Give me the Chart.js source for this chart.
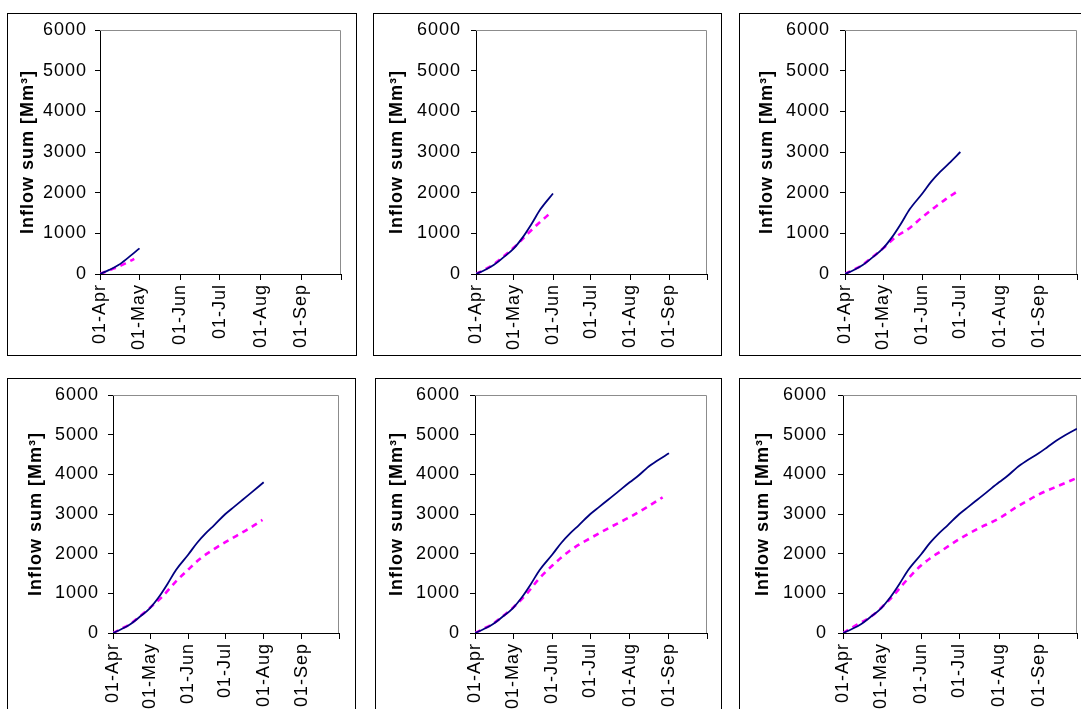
<!DOCTYPE html>
<html><head><meta charset="utf-8">
<script src="https://cdn.jsdelivr.net/npm/chart.js@4.4.1/dist/chart.umd.min.js"></script>
<style>
html,body{margin:0;padding:0;background:#fff;width:1081px;height:709px;overflow:hidden;position:relative;}
.panel{position:absolute;border:1px solid #000;box-sizing:border-box;background:#fff;}
.panel canvas{display:block;}
</style></head><body>
<script>
// ---- data ----
const monthTicks = [0, 30, 61, 91, 122, 153, 183];
const monthLabels = ['01-Apr', '01-May', '01-Jun', '01-Jul', '01-Aug', '01-Sep', ''];
const yTicks = [0, 1000, 2000, 3000, 4000, 5000, 6000];
const yTitle = 'Inflow sum [Mm³]';

const observedDays   = [0, 7, 14, 21, 30, 37, 44, 51, 61, 68, 75, 82, 91, 98, 105, 112, 122, 129, 136, 143, 153, 160, 167, 174, 183];
const observedValues = [0, 100, 220, 390, 630, 900, 1230, 1590, 1980, 2270, 2510, 2720, 3000, 3180, 3360, 3540, 3800, 3970, 4170, 4330, 4530, 4690, 4850, 4990, 5150];
const panelEndDays = [30, 61, 91, 122, 153, 183];

const forecastDays1   = [0, 7, 14, 21, 26];
const forecastValues1 = [0, 90, 180, 290, 370];
const forecastDays2   = [0, 7, 14, 21, 30, 40, 49, 59];
const forecastValues2 = [0, 110, 240, 410, 650, 960, 1230, 1500];
const forecastDays3   = [0, 7, 14, 21, 30, 40, 51, 61, 70, 79, 90];
const forecastValues3 = [0, 110, 230, 400, 630, 910, 1130, 1400, 1620, 1830, 2060];
const forecastDays4   = [0, 7, 14, 21, 30, 40, 51, 61, 70, 80, 91, 100, 110, 121];
const forecastValues4 = [0, 110, 230, 400, 640, 920, 1300, 1600, 1860, 2080, 2290, 2450, 2630, 2850];
const forecastDays5   = [0, 7, 14, 21, 30, 40, 50, 61, 75, 91, 104, 122, 135, 148];
const forecastValues5 = [0, 110, 230, 400, 640, 960, 1350, 1700, 2080, 2390, 2620, 2920, 3160, 3420];
const forecastDays6   = [0, 11, 23, 30, 40, 47, 54, 61, 68, 76, 91, 105, 122, 136, 153, 170, 183];
const forecastValues6 = [0, 210, 440, 640, 965, 1230, 1480, 1700, 1880, 2050, 2370, 2620, 2890, 3180, 3490, 3730, 3910];

const forecastDaysList = [forecastDays1, forecastDays2, forecastDays3, forecastDays4, forecastDays5, forecastDays6];
const forecastValuesList = [forecastValues1, forecastValues2, forecastValues3, forecastValues4, forecastValues5, forecastValues6];

// ---- layout (page pixels) ----
const layoutsCfg = [
  {box:[7, 13, 350, 343],   plot:[100, 30, 341, 274],  titleCx:28.5,  yPad:8},
  {box:[373, 13, 349, 343], plot:[476, 30, 707, 274],  titleCx:397.5, yPad:10},
  {box:[739, 13, 350, 343], plot:[845, 30, 1077, 274], titleCx:767.5, yPad:10},
  {box:[7, 378, 349, 343],  plot:[113, 395, 339, 633], titleCx:35.8,  yPad:9},
  {box:[375, 378, 347, 343],plot:[475, 395, 707, 633], titleCx:397.5, yPad:10},
  {box:[739, 378, 350, 343],plot:[843, 395, 1077, 633],titleCx:763.5, yPad:11}
];

const FONT = "'Liberation Sans', Arial, sans-serif";
const FSIZE = 18;
const SPACING = '1px';

const spacingPlugin = {
  id: 'spacing',
  beforeLayout(chart) { chart.ctx.letterSpacing = SPACING; },
  beforeDraw(chart) { chart.ctx.letterSpacing = SPACING; }
};
const framePlugin = {
  id: 'frame',
  beforeDatasetsDraw(chart) {
    const {ctx, chartArea: a} = chart;
    ctx.save();
    ctx.strokeStyle = '#8c8c8c';
    ctx.lineWidth = 1;
    ctx.beginPath();
    const t = Math.round(a.top) + 0.5, r = Math.round(a.right) - 0.5;
    ctx.moveTo(a.left, t);
    ctx.lineTo(r, t);
    ctx.lineTo(r, a.bottom);
    ctx.stroke();
    ctx.restore();
  }
};

layoutsCfg.forEach((L, i) => {
  const [bx, by, bw, bh] = L.box;
  const div = document.createElement('div');
  div.className = 'panel';
  div.style.left = bx + 'px'; div.style.top = by + 'px';
  div.style.width = bw + 'px'; div.style.height = bh + 'px';
  document.body.appendChild(div);
  const cw = bw - 2, ch = bh - 2, cx = bx + 1, cy = by + 1;
  const canvas = document.createElement('canvas');
  canvas.width = cw; canvas.height = ch;
  canvas.style.width = cw + 'px'; canvas.style.height = ch + 'px';
  div.appendChild(canvas);

  const [pl, pt, pr, pb] = L.plot;
  const yW = pl - cx;
  const xH = ch - (pb - cy);
  const topPad = pt - cy;
  const rightPad = cw - (pr - cx);
  const titlePad = L.titleCx - cx - FSIZE * 1.2 / 2;

  const end = panelEndDays[i];
  const obs = [];
  observedDays.forEach((d, k) => { if (d <= end) obs.push({x: d, y: observedValues[k]}); });
  const fc = forecastDaysList[i].map((d, k) => ({x: d, y: forecastValuesList[i][k]}));

  new Chart(canvas, {
    type: 'line',
    data: {datasets: [
      {data: obs, borderColor: '#000080', borderWidth: 1.8, pointRadius: 0, cubicInterpolationMode: 'monotone', fill: false},
      {data: fc, borderColor: '#FF00FF', borderWidth: 2.6, borderDash: [6, 5], pointRadius: 0, cubicInterpolationMode: 'monotone', fill: false}
    ]},
    options: {
      responsive: false, animation: false, devicePixelRatio: 1,
      layout: {padding: {left: 0, top: topPad, right: rightPad, bottom: 0}},
      plugins: {legend: {display: false}, tooltip: {enabled: false}},
      scales: {
        x: {
          type: 'linear', min: 0, max: 183,
          afterBuildTicks(s) { s.ticks = monthTicks.map(v => ({value: v})); },
          afterFit(s) { s.height = xH; s.paddingLeft = 0; s.paddingRight = 0; },
          ticks: {autoSkip: false, minRotation: 90, maxRotation: 90, padding: 4, color: '#000',
            font: {family: FONT, size: FSIZE},
            callback: (v) => { const k = monthTicks.indexOf(v); return k >= 0 ? monthLabels[k] : ''; }},
          grid: {drawOnChartArea: false, drawTicks: true, tickLength: 6, color: '#000'},
          border: {display: true, color: '#000', width: 1}
        },
        y: {
          min: 0, max: 6000,
          afterBuildTicks(s) { s.ticks = yTicks.map(v => ({value: v})); },
          afterFit(s) { s.width = yW; s.paddingTop = 0; s.paddingBottom = 0; },
          ticks: {padding: L.yPad, color: '#000', font: {family: FONT, size: FSIZE}, callback: (v) => String(v)},
          grid: {drawOnChartArea: false, drawTicks: true, tickLength: 5, color: '#000'},
          border: {display: true, color: '#000', width: 1},
          title: {display: true, text: yTitle, color: '#000', font: {family: FONT, size: FSIZE, weight: 'bold'},
            padding: {top: titlePad, bottom: 0}}
        }
      }
    },
    plugins: [spacingPlugin, framePlugin]
  });
});
</script>
</body></html>
